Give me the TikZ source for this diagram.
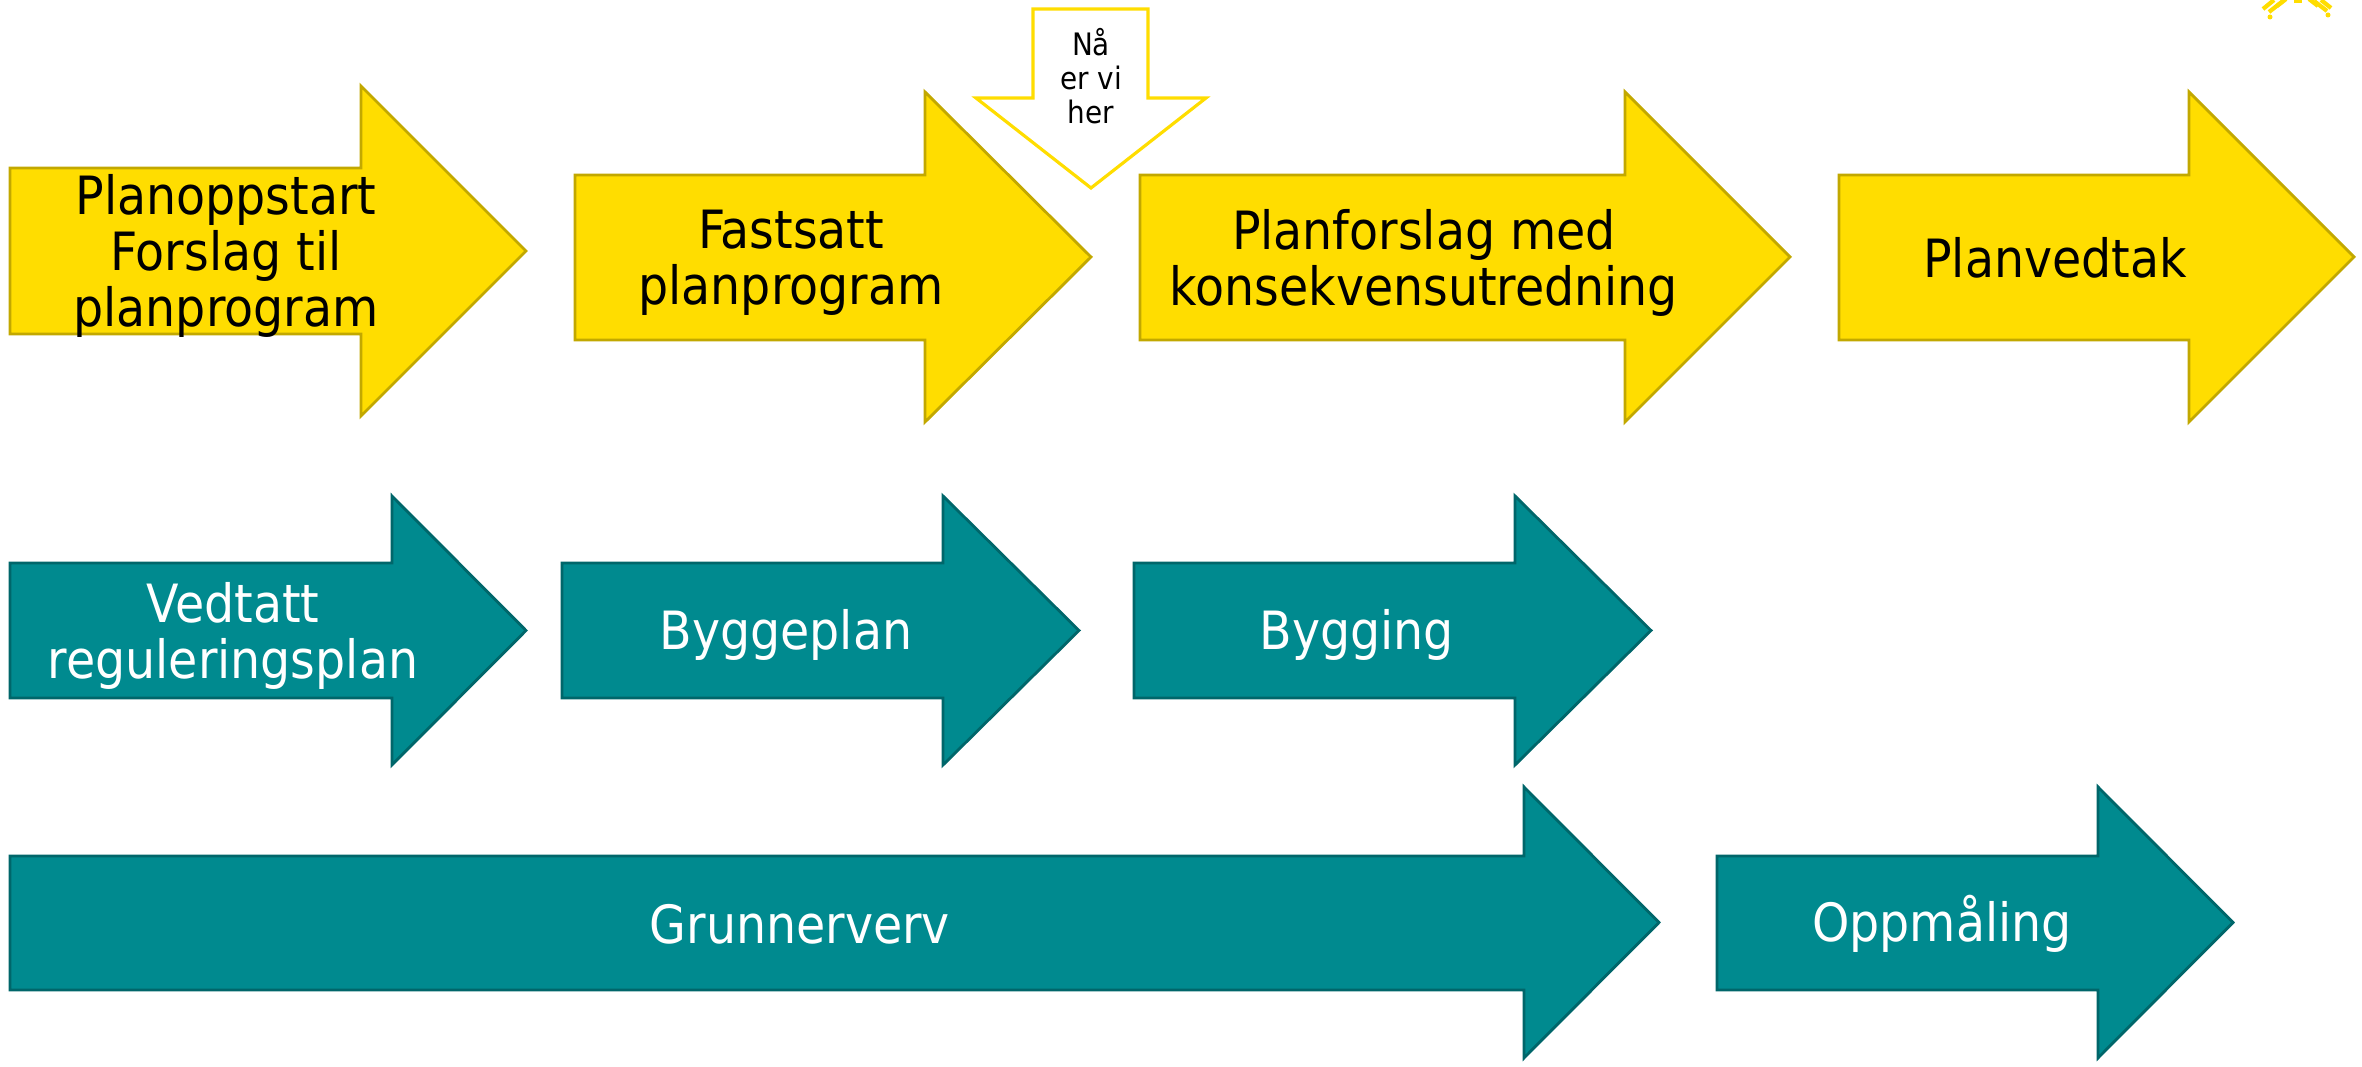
\documentclass[tikz,border=0pt]{standalone}
\usepackage{fontspec}
\setmainfont{DejaVu Sans Condensed}
\definecolor{yfill}{HTML}{FFDD00}
\definecolor{yline}{HTML}{C2A800}
\definecolor{tfill}{HTML}{008A8F}
\definecolor{tline}{HTML}{00666A}
\newcommand{\harrow}[8]{\draw[#1] (#2,#3) -- (#5,#3) -- (#5,#6) -- (#8,{(#6+#7)/2}) -- (#5,#7) -- (#5,#4) -- (#2,#4) -- cycle;}
\begin{document}
\begin{tikzpicture}[x=0.01cm,y=-0.01cm]
\tikzset{
  yarrow/.style={fill=yfill,draw=yline,line width=0.8pt,line join=miter},
  tarrow/.style={fill=tfill,draw=tline,line width=0.8pt,line join=miter},
  downarrow/.style={fill=white,draw=yfill,line width=0.9pt,line join=miter},
  ytext/.style={text=black,font=\fontsize{15}{16}\selectfont,align=center,inner sep=0pt},
  ttext/.style={ytext,text=white},
  smalltext/.style={text=black,font=\fontsize{8.8}{9.7}\selectfont,align=center,inner sep=0pt},
  logo/.style={draw=yfill,line width=1.2pt},
  logodot/.style={fill=yfill}
}
\useasboundingbox (0,0) rectangle (2362,1067);
% row 1 (yellow)
\harrow{yarrow}{10}{168}{334}{361}{86}{416}{526}
\harrow{yarrow}{575}{175}{340}{925}{92}{422}{1091}
\harrow{yarrow}{1140}{175}{340}{1625}{92}{422}{1790}
\harrow{yarrow}{1839}{175}{340}{2189}{92}{422}{2354}
% row 2 (teal)
\harrow{tarrow}{10}{563}{698}{392}{496}{765}{526}
\harrow{tarrow}{562}{563}{698}{943}{496}{765}{1079}
\harrow{tarrow}{1134}{563}{698}{1515}{496}{765}{1651}
% row 3 (teal)
\harrow{tarrow}{10}{856}{990}{1524}{787}{1058}{1659}
\harrow{tarrow}{1717}{856}{990}{2098}{787}{1058}{2233}
% "here" arrow
\draw[downarrow] (1033,9) -- (1148,9) -- (1148,98) -- (1206,98) -- (1091,188) -- (976,98) -- (1033,98) -- cycle;
% texts
\node[ytext] (a1) at (226,256) {Planoppstart\\Forslag til\\planprogram};
\node[ytext] (a2) at (791,263) {Fastsatt\\planprogram};
\node[ytext] (a3) at (1424,263) {Planforslag med\\konsekvensutredning};
\node[ytext] (a4) at (2055,258) {Planvedtak};
\node[ttext] (b1) at (233,636) {Vedtatt\\reguleringsplan};
\node[ttext] (b2) at (786,635) {Byggeplan};
\node[ttext] (b3) at (1357,635) {Bygging};
\node[ttext] (c1) at (800,924) {Grunnerverv};
\node[ttext] (c2) at (1942,924) {Oppmåling};
\node[smalltext] (here) at (1091,76) {Nå\\er vi\\her};
% partial logo, top right
\draw[logo] (2263,9) -- (2274,0);
\draw[logo] (2269,12) -- (2283,1);
\draw[logo] (2277,6) -- (2286,-1);
\draw[logo] (2294,1) -- (2302,1);
\draw[logo] (2309,-1) -- (2318,6);
\draw[logo] (2314,1) -- (2327,11);
\draw[logo] (2321,0) -- (2331,8);
\fill[logodot] (2270,17) circle (2.5);
\fill[logodot] (2328,15) circle (2.5);
\end{tikzpicture}
\end{document}
